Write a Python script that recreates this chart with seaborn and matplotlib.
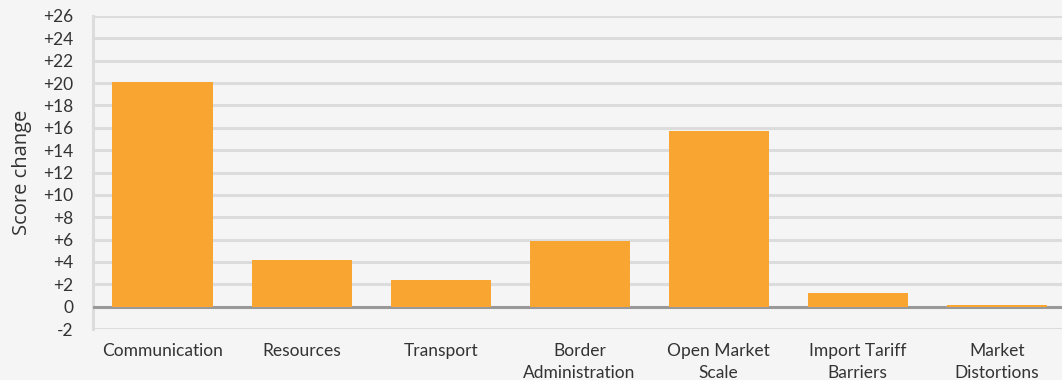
import matplotlib
matplotlib.use("Agg")
from matplotlib import pyplot as plt
import pandas as pd
import seaborn as sns

# dati
categorie = ["Communication", "Resources", "Transport", "Border\nAdministration",
             "Open Market\nScale", "Import Tariff\nBarriers", "Market\nDistortions"]
valori = [20.1, 4.2, 2.4, 5.9, 15.7, 1.2, 0.15]
tick_y = list(range(-2, 27, 2))
etichette_y = [f"+{t}" if t > 0 else str(t) for t in tick_y]

df = pd.DataFrame({"categoria": categorie, "valore": valori})

sns.set_style("white")
plt.rcParams["font.family"] = ["Lato", "DejaVu Sans"]

sfondo = "#f5f5f5"
fig = plt.figure(figsize=(10.62, 3.8), dpi=100, facecolor=sfondo)
ax = fig.add_axes([0.0876, 0.134, 0.9164, 0.824])
ax.set_facecolor(sfondo)

sns.barplot(data=df, x="categoria", y="valore", color="#f8a631", saturation=1,
            width=0.72, ax=ax, zorder=5, edgecolor="none", linewidth=0)

ax.set_ylim(-2, 26)
ax.set_xlim(-0.5, 6.5)
ax.set_yticks(tick_y)
ax.set_yticklabels(etichette_y)
for t in tick_y:
    if t != 0:
        ax.axhline(t, color="#dcdcdc", lw=2.2, zorder=1)
ax.axhline(0, color="#999999", lw=2.2, zorder=4)

for s in ["top", "right", "bottom"]:
    ax.spines[s].set_visible(False)
ax.spines["left"].set_color("#dcdcdc")
ax.spines["left"].set_linewidth(2.2)

ax.tick_params(axis="both", length=0, labelsize=12.5, colors="#333333")
ax.tick_params(axis="x", pad=10)
ax.tick_params(axis="y", pad=14)
for lab in ax.get_xticklabels():
    lab.set_linespacing(1.45)
ax.set_xlabel("")
ax.set_ylabel("Score change", fontsize=14.5, color="#333333",
              family=["Open Sans", "DejaVu Sans"], labelpad=8)

fig.savefig("out.png", dpi=100, facecolor=sfondo)
